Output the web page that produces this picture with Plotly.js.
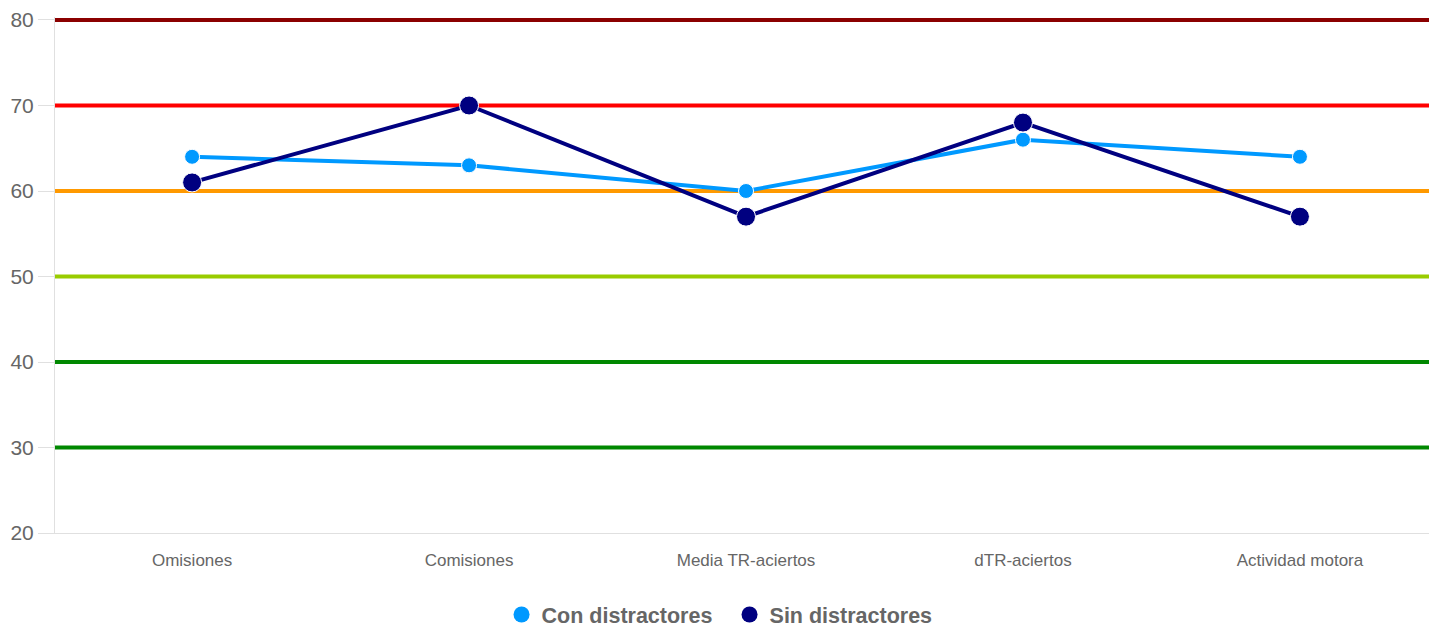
<!DOCTYPE html>
<html><head><meta charset="utf-8">
<script src="https://cdn.plot.ly/plotly-3.0.1.min.js"></script>
<style>html,body{margin:0;padding:0;background:#fff}#chart{width:1429px;height:629px}</style>
</head><body><div id="chart"></div>
<script>
const categories = ["Omisiones", "Comisiones", "Media TR-aciertos", "dTR-aciertos", "Actividad motora"];
const conDistractores = [64, 63, 60, 66, 64];
const sinDistractores = [61, 70, 57, 68, 57];
const refLevels = [80, 70, 60, 50, 40, 30];
const refColors = ["#8b0000", "#ff0000", "#ff9900", "#99cc00", "#008800", "#008800"];
const yTicks = [20, 30, 40, 50, 60, 70, 80];

const idx = categories.map((c, i) => i);
const traces = [
  {x: idx, y: conDistractores, mode: "lines+markers", name: "Con distractores", showlegend: false,
   line: {color: "#0099ff", width: 4}, marker: {color: "#0099ff", size: 15, line: {color: "#fff", width: 1}}},
  {x: idx, y: sinDistractores, mode: "lines+markers", name: "Sin distractores", showlegend: false,
   line: {color: "#000080", width: 4}, marker: {color: "#000080", size: 19, line: {color: "#fff", width: 1}}},
  {x: [null], y: [null], mode: "markers", name: "Con distractores", marker: {color: "#0099ff", size: 22}},
  {x: [null], y: [null], mode: "markers", name: "Sin distractores", marker: {color: "#000080", size: 22}}
];
const shapes = refLevels.map((v, i) => ({
  type: "line", xref: "paper", x0: 0, x1: 1, yref: "y", y0: v, y1: v, layer: "below",
  line: {color: refColors[i], width: 4}
}));
const layout = {
  width: 1429, height: 629,
  margin: {l: 55, r: 0, t: 17, b: 96, autoexpand: false},
  paper_bgcolor: "#fff", plot_bgcolor: "#fff",
  font: {family: "Liberation Sans, Arial, sans-serif", color: "#666"},
  xaxis: {range: [-0.495, 4.466], tickvals: idx, ticktext: categories, showgrid: false, zeroline: false,
          showline: true, linecolor: "#e0e0e0", linewidth: 1, ticks: "", ticklabelstandoff: 12,
          tickfont: {size: 17, color: "#666"}, fixedrange: true},
  yaxis: {range: [20, 80.35], tickvals: yTicks, showgrid: false, zeroline: false, showline: true,
          linecolor: "#e0e0e0", linewidth: 1, ticks: "outside", ticklen: 16, tickcolor: "#e0e0e0",
          tickfont: {size: 21, color: "#666"}, ticklabelstandoff: 0},
  shapes: shapes,
  showlegend: true,
  legend: {orientation: "h", x: 0.325, xanchor: "left", y: -0.158, yanchor: "middle",
           entrywidth: 183, entrywidthmode: "pixels",
           font: {size: 21.5, color: "#666", weight: "bold"}}
};
Plotly.newPlot("chart", traces, layout, {displayModeBar: false, staticPlot: true});
</script></body></html>
